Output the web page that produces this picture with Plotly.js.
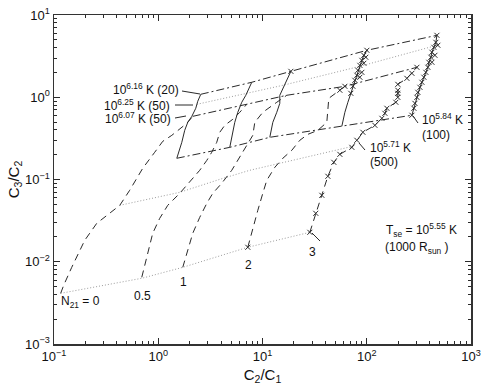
<!DOCTYPE html>
<html>
<head>
<meta charset="utf-8">
<script src="https://cdn.plot.ly/plotly-3.0.1.min.js"></script>
<style>html,body{margin:0;padding:0;background:#fff;}#plot{width:485px;height:389px;}</style>
</head>
<body>
<div id="plot"></div>
<script>
// Values, stored as log10(C2/C1) (X) and log10(C3/C2) (Y)
// Dashed tracks, N21 = 0, 0.5, 1, 2, 3
const n0X = [-0.936,-0.907,-0.830,-0.705,-0.590,-0.465,-0.369,-0.274,-0.149,-0.034,0.043,0.130,0.206,0.274,0.331];
const n0Y = [-2.384,-2.286,-2.068,-1.739,-1.533,-1.411,-1.314,-1.131,-0.864,-0.669,-0.536,-0.463,-0.390,-0.317,-0.232];
const n05X = [-0.158,-0.110,-0.053,0.014,0.091,0.206,0.302,0.398,0.466,0.513,0.561,0.590,0.638,0.715,0.782,0.849];
const n05Y = [-2.189,-1.946,-1.654,-1.472,-1.314,-1.168,-1.034,-0.888,-0.767,-0.669,-0.548,-0.426,-0.341,-0.268,-0.183,-0.086];
const n1X = [0.235,0.283,0.331,0.398,0.466,0.523,0.609,0.705,0.782,0.849,0.907,0.926,1.003,1.137,1.233];
const n1Y = [-2.068,-1.861,-1.654,-1.460,-1.289,-1.168,-1.046,-0.888,-0.730,-0.596,-0.463,-0.305,-0.183,-0.061,0.024];
const n2X = [0.859,0.907,0.955,1.003,1.041,1.118,1.195,1.281,1.358,1.435,1.531,1.617,1.627,1.636,1.713,1.790];
const n2Y = [-1.824,-1.581,-1.375,-1.168,-1.010,-0.852,-0.742,-0.645,-0.523,-0.451,-0.402,-0.305,-0.159,-0.013,0.060,0.133];
const n3X = [1.454,1.511,1.569,1.627,1.684,1.742,1.857,1.905,1.963,2.078,2.145,2.174,2.193,2.279,2.298,2.298,2.298,2.298,2.385,2.433,2.481];
const n3Y = [-1.642,-1.411,-1.192,-0.961,-0.791,-0.694,-0.609,-0.523,-0.426,-0.341,-0.256,-0.195,-0.134,-0.061,-0.001,0.048,0.085,0.157,0.230,0.291,0.364];
// Solid tracks
const s1X = [0.178,0.226,0.254,0.283,0.322,0.360,0.379,0.408];
const s1Y = [-0.742,-0.548,-0.402,-0.305,-0.232,-0.134,-0.049,0.036];
const s2X = [0.686,0.715,0.734,0.763,0.801,0.840,0.869,0.897];
const s2Y = [-0.609,-0.426,-0.305,-0.183,-0.061,0.024,0.109,0.182];
const s3X = [1.070,1.099,1.137,1.166,1.166,1.195,1.233,1.272];
const s3Y = [-0.487,-0.305,-0.183,-0.074,0.024,0.109,0.206,0.315];
const s4X = [1.761,1.790,1.819,1.847,1.867,1.886,1.905,1.915,1.934,1.953,1.972,2.001];
const s4Y = [-0.353,-0.183,-0.061,0.048,0.133,0.206,0.267,0.328,0.388,0.449,0.510,0.571];
const s5X = [2.433,2.452,2.462,2.481,2.490,2.510,2.529,2.548,2.567,2.586,2.596,2.615,2.625,2.644,2.663,2.673];
const s5Y = [-0.219,-0.134,-0.074,-0.001,0.060,0.121,0.182,0.243,0.303,0.364,0.425,0.486,0.547,0.607,0.668,0.753];
// Extra x-marked model points
const extraX = [1.934,1.953,1.972,1.991,2.625,2.654,2.682,1.742,0.859,1.790,1.272];
const extraY = [0.243,0.303,0.413,0.486,0.425,0.510,0.632,0.085,-1.824,0.133,0.315];
// Dotted (equal radius) lines
const d1X = [-0.936,-0.158,0.235,0.859,1.454];
const d1Y = [-2.384,-2.201,-2.068,-1.824,-1.642];
const d2X = [-0.369,0.206,0.590,0.878,1.166,1.483,1.867];
const d2Y = [-1.314,-1.156,-0.998,-0.888,-0.803,-0.706,-0.596];
const d3X = [0.370,0.686,0.878,1.195,1.934,2.673];
const d3Y = [-0.086,-0.001,0.060,0.145,0.376,0.632];
// Dash-dot (equal radius) lines
const dd1X = [0.408,0.897,1.272,2.001,2.673];
const dd1Y = [0.036,0.182,0.315,0.571,0.753];
const dd2X = [0.331,0.849,1.233,1.790,2.481];
const dd2Y = [-0.232,-0.086,0.024,0.133,0.364];
const dd3X = [0.178,0.686,1.070,1.761,2.433];
const dd3Y = [-0.742,-0.609,-0.487,-0.353,-0.219];
// Axis ticks
const xTickVals = [0.1, 1, 10, 100, 1000];
const xTickText = ['10<sup>\u22121</sup>','10<sup>0</sup>','10<sup>1</sup>','10<sup>2</sup>','10<sup>3</sup>'];
const yTickVals = [0.001, 0.01, 0.1, 1, 10];
const yTickText = ['10<sup>\u22123</sup>','10<sup>\u22122</sup>','10<sup>\u22121</sup>','10<sup>0</sup>','10<sup>1</sup>'];

const lin = a => a.map(v => Math.pow(10, v));
const INK = '#2a2a2a';
const dashed = {color: INK, width: 1, dash: '7px,5px'};
const dotted = {color: '#9c9c9c', width: 1, dash: '1px,2px'};
const dashdot = {color: INK, width: 1, dash: '8px,3px,2px,3px'};
const solid = {color: INK, width: 1};
const xm = {symbol: 'x-thin-open', size: 5, color: INK, line: {width: 1, color: INK}};

function tr(x, y, line, mode, marker) {
  const t = {x: lin(x), y: lin(y), type: 'scatter', mode: mode || 'lines', line: line, hoverinfo: 'skip'};
  if (marker) t.marker = marker;
  return t;
}
const data = [
  tr(d1X, d1Y, dotted), tr(d2X, d2Y, dotted), tr(d3X, d3Y, dotted),
  tr(dd1X, dd1Y, dashdot), tr(dd2X, dd2Y, dashdot), tr(dd3X, dd3Y, dashdot),
  tr(n0X, n0Y, dashed), tr(n05X, n05Y, dashed), tr(n1X, n1Y, dashed), tr(n2X, n2Y, dashed),
  tr(n3X, n3Y, dashed, 'lines+markers', xm),
  tr(s1X, s1Y, solid), tr(s2X, s2Y, solid), tr(s3X, s3Y, solid), tr(s4X, s4Y, solid),
  tr(s4X.slice(3), s4Y.slice(3), solid, 'markers', xm),
  tr(s5X, s5Y, solid, 'lines+markers', xm),
  tr(extraX, extraY, solid, 'markers', xm)
];

// pixel -> paper helpers for labels
const L = 54, R = 471, T = 15, B = 344;
const px = v => (v - L) / (R - L);
const py = v => (B - v) / (B - T);
const FONT = {family: 'Liberation Sans, Arial, sans-serif', size: 12, color: '#111'};
function lab(text, x, y, xa) {
  return {text: text, xref: 'paper', yref: 'paper', x: px(x), y: py(y), xanchor: xa, yanchor: 'middle', showarrow: false, font: FONT};
}
const annotations = [
  lab('10<sup>6.16</sup> K (20)', 181, 89, 'right'),
  lab('10<sup>6.25</sup> K (50)', 172, 105, 'right'),
  lab('10<sup>6.07</sup> K (50)', 173, 118, 'right'),
  lab('10<sup>5.84</sup> K', 420, 119, 'left'),
  lab('(100)', 420, 135, 'left'),
  lab('10<sup>5.71</sup> K', 368, 147, 'left'),
  lab('(500)', 368, 162, 'left'),
  lab('T<sub>se</sub> = 10<sup>5.55</sup> K', 384, 230, 'left'),
  lab('(1000 R<sub>sun</sub> )', 383, 248, 'left'),
  lab('N<sub>21</sub> = 0', 59, 302, 'left'),
  lab('0.5', 142, 296, 'center'),
  lab('1', 183, 282, 'center'),
  lab('2', 248, 265, 'center'),
  lab('3', 312, 252, 'center')
];
function seg(x0, y0, x1, y1) {
  return {type: 'line', xref: 'paper', yref: 'paper', x0: px(x0), y0: py(y0), x1: px(x1), y1: py(y1), line: {color: INK, width: 1}};
}
const shapes = [
  seg(182, 91, 200, 94), seg(175, 105, 193, 105), seg(175, 118, 186, 116),
  seg(413, 116, 418, 123), seg(359, 143, 365, 150), seg(312, 233, 320, 241)
];

function minorVals(lo, hi) {
  const out = [];
  for (let e = lo; e < hi; e++) for (let m = 2; m <= 9; m++) out.push(m * Math.pow(10, e));
  return out;
}
const axisBase = {
  type: 'log', tickmode: 'array', ticks: 'inside', ticklen: 6, tickwidth: 1, tickcolor: INK,
  showline: true, linecolor: '#333', linewidth: 1.5, mirror: 'allticks', showgrid: false, zeroline: false,
  tickfont: {family: 'Liberation Sans, Arial, sans-serif', size: 13, color: '#111'}
};
const layout = {
  width: 485, height: 389, margin: {l: L, r: 485 - R, t: T, b: 389 - B},
  paper_bgcolor: '#fff', plot_bgcolor: '#fff', showlegend: false,
  xaxis: Object.assign({}, axisBase, {
    range: [-1, 3], tickvals: xTickVals, ticktext: xTickText,
    minor: {ticks: 'inside', ticklen: 3, tickwidth: 1, tickcolor: INK, tickmode: 'array', tickvals: minorVals(-1, 3), showgrid: false},
    title: {text: 'C<sub>2</sub>/C<sub>1</sub>', font: {family: 'Liberation Sans, Arial, sans-serif', size: 15, color: '#111'}, standoff: 6}
  }),
  yaxis: Object.assign({}, axisBase, {
    range: [-3, 1], tickvals: yTickVals, ticktext: yTickText,
    minor: {ticks: 'inside', ticklen: 3, tickwidth: 1, tickcolor: INK, tickmode: 'array', tickvals: minorVals(-3, 1), showgrid: false},
    title: {text: 'C<sub>3</sub>/C<sub>2</sub>', font: {family: 'Liberation Sans, Arial, sans-serif', size: 15, color: '#111'}, standoff: 2}
  }),
  annotations: annotations, shapes: shapes
};
Plotly.newPlot('plot', data, layout, {staticPlot: true, displayModeBar: false});
</script>
</body>
</html>
